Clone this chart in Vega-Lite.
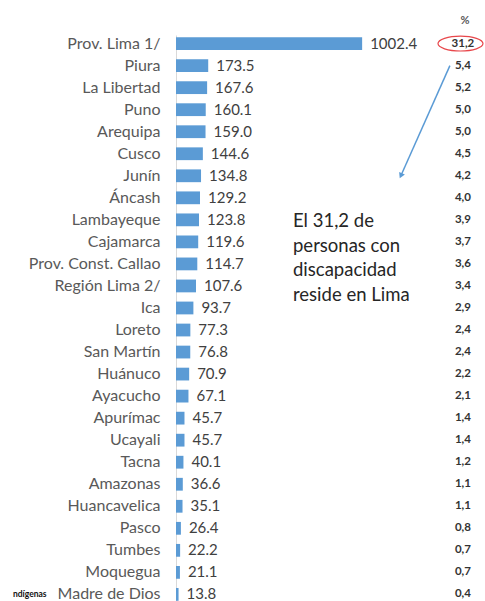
{
  "$schema": "https://vega.github.io/schema/vega-lite/v6.json",
  "autosize": {"type": "none"},
  "padding": {"left": 176, "top": 35, "right": 0, "bottom": 0},
  "width": 309,
  "height": 568,
  "background": "white",
  "config": {"view": {"stroke": null}, "font": "Lato"},
  "data": {"values": [
    {"region": "Prov. Lima 1/", "value": 1002.4, "pct": "31,2"},
    {"region": "Piura", "value": 173.5, "pct": "5,4"},
    {"region": "La Libertad", "value": 167.6, "pct": "5,2"},
    {"region": "Puno", "value": 160.1, "pct": "5,0"},
    {"region": "Arequipa", "value": 159.0, "pct": "5,0"},
    {"region": "Cusco", "value": 144.6, "pct": "4,5"},
    {"region": "Junín", "value": 134.8, "pct": "4,2"},
    {"region": "Áncash", "value": 129.2, "pct": "4,0"},
    {"region": "Lambayeque", "value": 123.8, "pct": "3,9"},
    {"region": "Cajamarca", "value": 119.6, "pct": "3,7"},
    {"region": "Prov. Const. Callao", "value": 114.7, "pct": "3,6"},
    {"region": "Región Lima 2/", "value": 107.6, "pct": "3,4"},
    {"region": "Ica", "value": 93.7, "pct": "2,9"},
    {"region": "Loreto", "value": 77.3, "pct": "2,4"},
    {"region": "San Martín", "value": 76.8, "pct": "2,4"},
    {"region": "Huánuco", "value": 70.9, "pct": "2,2"},
    {"region": "Ayacucho", "value": 67.1, "pct": "2,1"},
    {"region": "Apurímac", "value": 45.7, "pct": "1,4"},
    {"region": "Ucayali", "value": 45.7, "pct": "1,4"},
    {"region": "Tacna", "value": 40.1, "pct": "1,2"},
    {"region": "Amazonas", "value": 36.6, "pct": "1,1"},
    {"region": "Huancavelica", "value": 35.1, "pct": "1,1"},
    {"region": "Pasco", "value": 26.4, "pct": "0,8"},
    {"region": "Tumbes", "value": 22.2, "pct": "0,7"},
    {"region": "Moquegua", "value": 21.1, "pct": "0,7"},
    {"region": "Madre de Dios", "value": 13.8, "pct": "0,4"}
  ]},
  "encoding": {
    "y": {
      "field": "region", "type": "nominal", "sort": null,
      "scale": {"paddingInner": 0.42, "paddingOuter": 0.1},
      "axis": {
        "title": null, "ticks": false, "grid": false,
        "domainColor": "#d9d9d9", "domainWidth": 1,
        "labelFont": "Lato", "labelFontSize": 16, "labelColor": "#595959",
        "labelPadding": 16
      }
    }
  },
  "layer": [
    {
      "mark": {"type": "bar", "color": "#5B9BD5"},
      "encoding": {
        "x": {"field": "value", "type": "quantitative", "scale": {"domain": [0, 1664], "nice": false, "zero": true}, "axis": null}
      }
    },
    {
      "mark": {"type": "text", "align": "left", "baseline": "middle", "dx": 8, "fontSize": 15, "color": "#404040", "font": "Lato"},
      "encoding": {
        "x": {"field": "value", "type": "quantitative"},
        "text": {"field": "value", "type": "quantitative", "format": ".1f"}
      }
    },
    {
      "mark": {"type": "text", "align": "center", "baseline": "middle", "fontSize": 11.5, "fontWeight": "bold", "color": "#333333", "font": "Lato"},
      "encoding": {
        "x": {"datum": 1545, "type": "quantitative"},
        "text": {"field": "pct", "type": "nominal"}
      }
    },
    {
      "data": {"values": [{"label": "%"}]},
      "mark": {"type": "text", "align": "center", "baseline": "middle", "dy": -22.5, "fontSize": 11, "fontWeight": "bold", "color": "#595959", "font": "Lato"},
      "encoding": {
        "x": {"datum": 1556, "type": "quantitative"},
        "y": {"datum": "Prov. Lima 1/"},
        "text": {"field": "label", "type": "nominal"}
      }
    },
    {
      "data": {"values": [{"label": "ellipse"}]},
      "mark": {"type": "point", "shape": "M-1,0A1,0.33,0,1,1,1,0A1,0.33,0,1,1,-1,0Z", "size": 2025, "filled": false, "stroke": "#E8474B", "strokeWidth": 1.2, "opacity": 1},
      "encoding": {
        "x": {"datum": 1532, "type": "quantitative"},
        "y": {"datum": "Prov. Lima 1/"}
      }
    },
    {
      "data": {"values": [{"label": "arrow"}]},
      "mark": {"type": "rule", "color": "#5B9BD5", "strokeWidth": 1.5},
      "encoding": {
        "x": {"datum": 1475, "type": "quantitative"},
        "x2": {"datum": 1211},
        "y": {"datum": "Piura"},
        "y2": {"datum": "Junín"}
      }
    },
    {
      "data": {"values": [{"label": "arrowhead"}]},
      "mark": {"type": "point", "shape": "triangle-down", "size": 40, "filled": true, "color": "#5B9BD5", "opacity": 1, "angle": 24.5},
      "encoding": {
        "x": {"datum": 1211, "type": "quantitative"},
        "y": {"datum": "Junín"}
      }
    },
    {
      "data": {"values": [{"label": "El 31,2 de\npersonas con\ndiscapacidad\nreside en Lima"}]},
      "mark": {"type": "text", "align": "left", "baseline": "alphabetic", "dy": 7, "lineBreak": "\n", "lineHeight": 24.7, "fontSize": 18.5, "color": "#262626", "font": "Lato"},
      "encoding": {
        "x": {"datum": 630, "type": "quantitative"},
        "y": {"datum": "Lambayeque"},
        "text": {"field": "label", "type": "nominal"}
      }
    },
    {
      "data": {"values": [{"label": "ndígenas"}]},
      "mark": {"type": "text", "align": "left", "baseline": "middle", "fontSize": 8.5, "fontWeight": "bold", "color": "#111111", "font": "Lato"},
      "encoding": {
        "x": {"datum": -878, "type": "quantitative"},
        "y": {"datum": "Madre de Dios"},
        "text": {"field": "label", "type": "nominal"}
      }
    }
  ]
}
